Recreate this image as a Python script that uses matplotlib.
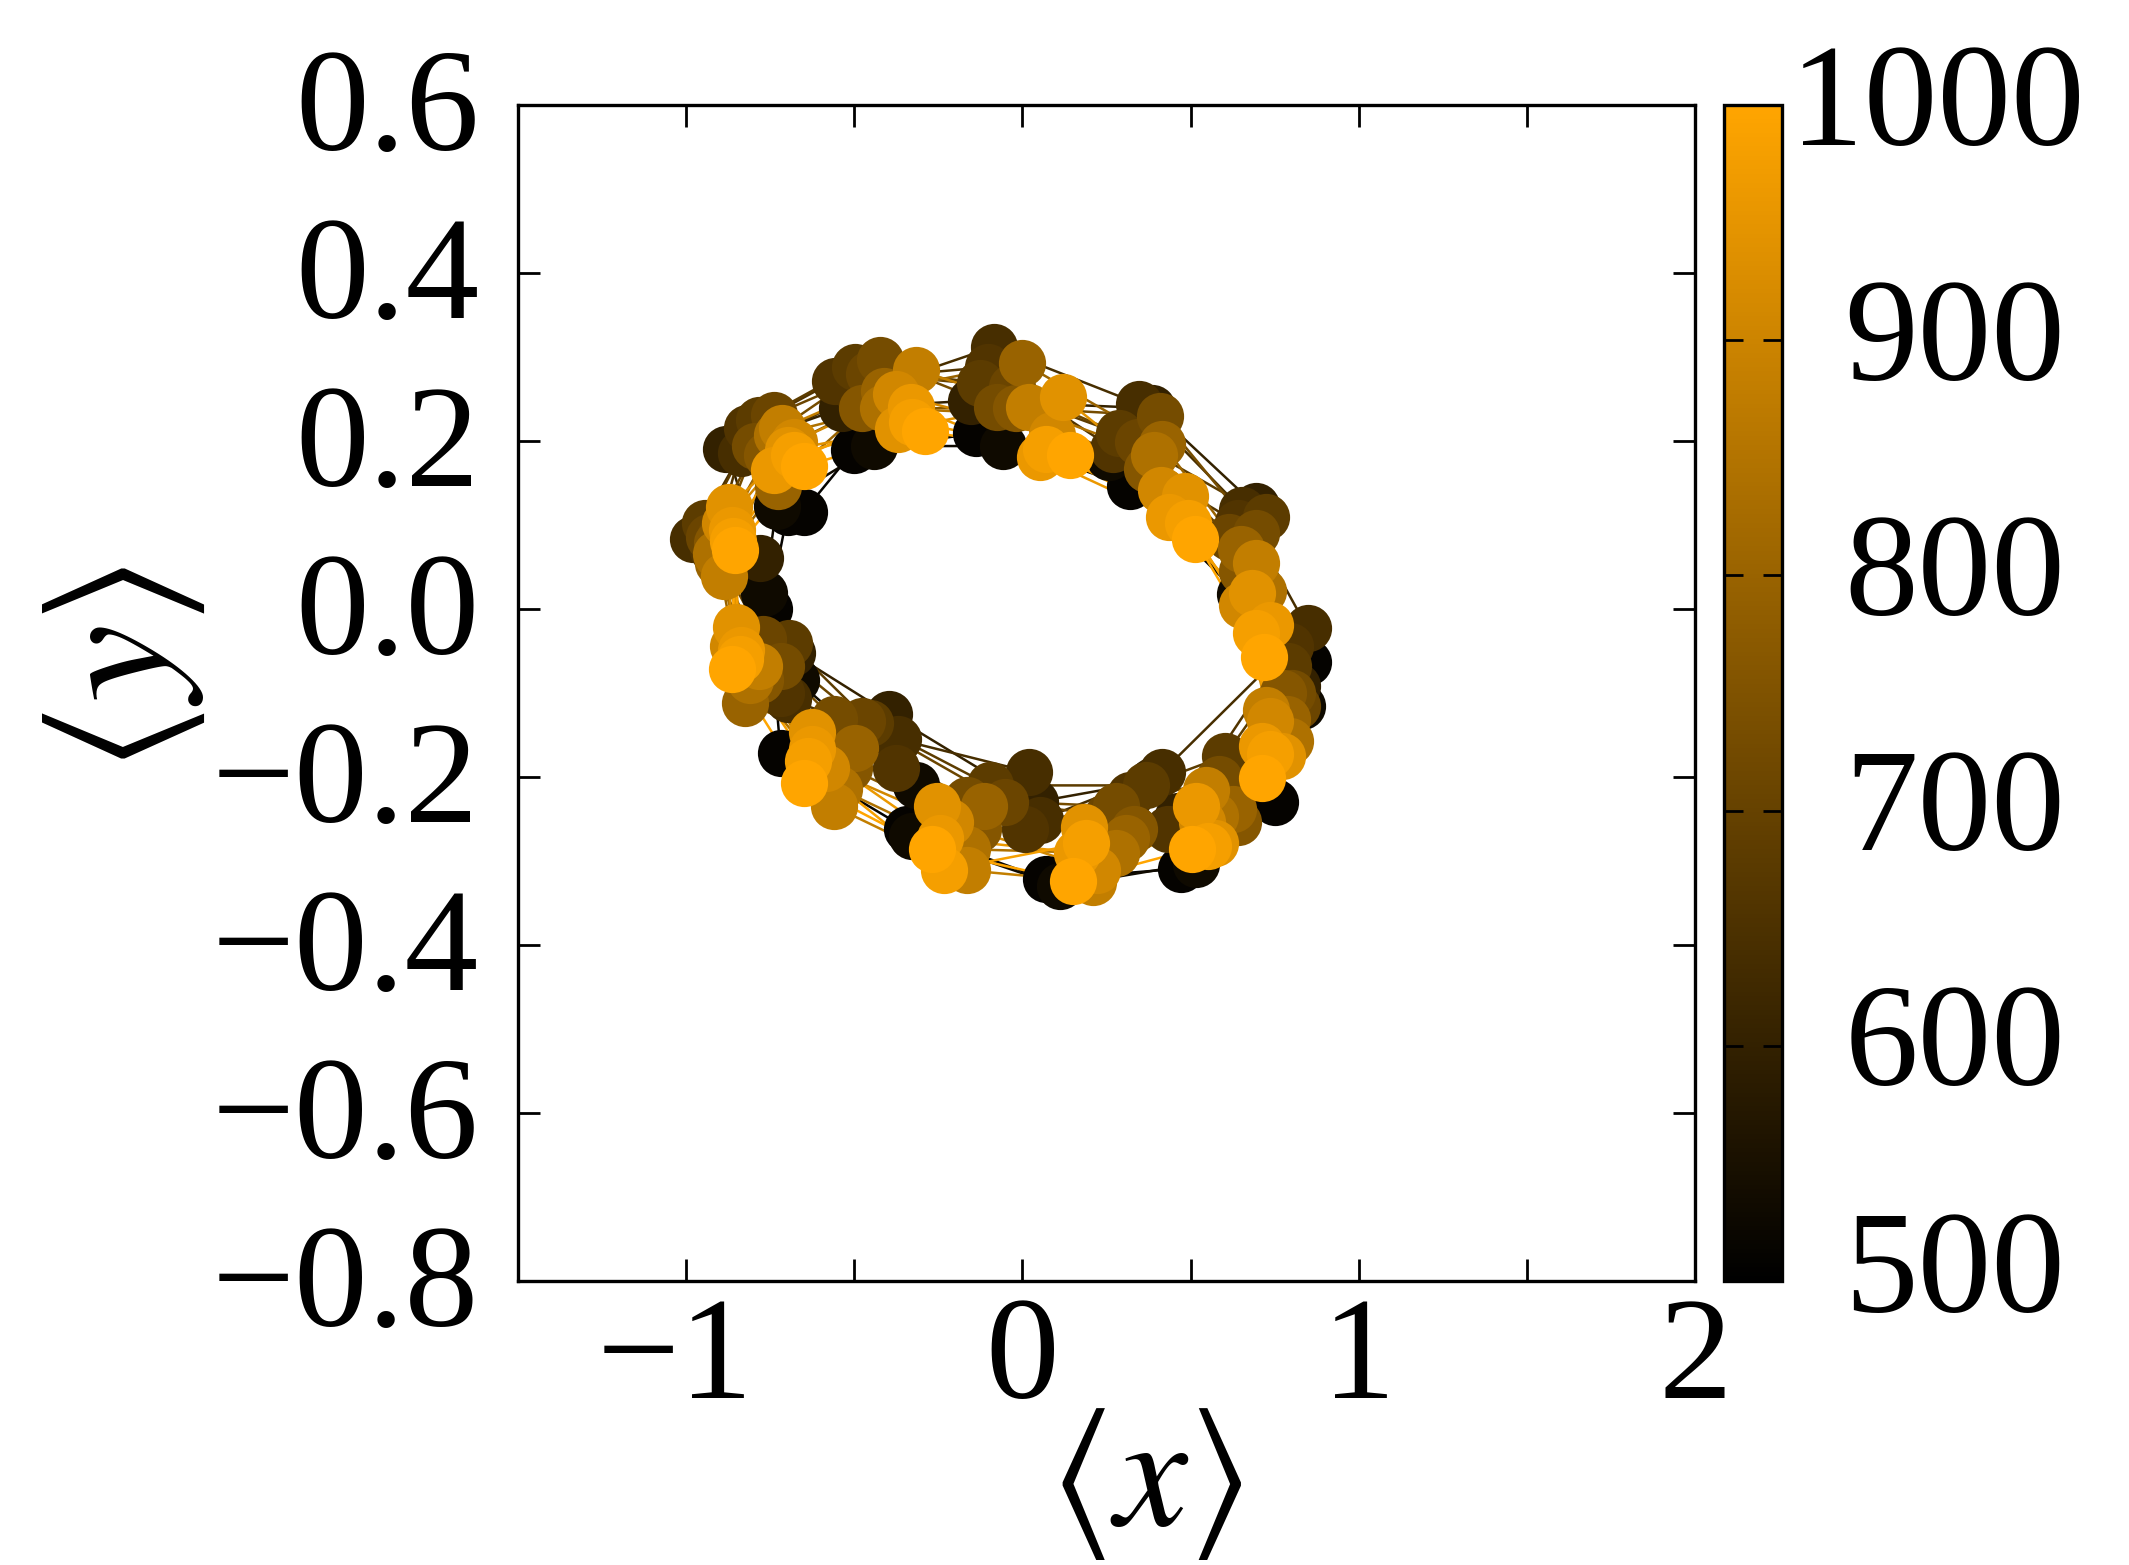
import matplotlib
matplotlib.use("Agg")
import numpy as np
import matplotlib.pyplot as plt
from matplotlib.colors import LinearSegmentedColormap, Normalize
from matplotlib.cm import ScalarMappable
from matplotlib.transforms import ScaledTranslation

plt.rcParams['font.family'] = ['Liberation Serif', 'DejaVu Serif']
plt.rcParams['mathtext.fontset'] = 'stix'

times = [510, 530, 640, 680, 730, 800, 880, 940, 960, 1000]
times_extra = [600, 660, 710, 760, 840, 910, 980]

osc_x = [
    [-0.698, -0.767, -0.981, -0.945, -0.900, -0.904, -0.888, -0.872, -0.864, -0.856],
    [-0.755, -0.674, -0.698, -0.694, -0.719, -0.824, -0.783, -0.852, -0.836, -0.864],
    [-0.719, -0.315, -0.371, -0.452, -0.561, -0.497, -0.561, -0.626, -0.626, -0.650],
    [-0.343, -0.327, 0.020, -0.097, -0.166, -0.113, -0.166, -0.254, -0.246, -0.270],
    [0.069, 0.113, 0.052, 0.367, 0.279, 0.307, 0.210, 0.182, 0.161, 0.149],
    [0.472, 0.517, 0.416, 0.602, 0.585, 0.626, 0.545, 0.573, 0.517, 0.505],
    [0.751, 0.832, 0.848, 0.791, 0.803, 0.787, 0.723, 0.771, 0.711, 0.711],
    [0.848, 0.646, 0.654, 0.723, 0.694, 0.650, 0.694, 0.682, 0.735, 0.719],
    [0.319, 0.258, 0.347, 0.287, 0.408, 0.416, 0.424, 0.484, 0.436, 0.513],
    [-0.137, -0.057, -0.085, -0.125, -0.077, 0.000, 0.020, 0.121, 0.052, 0.141],
    [-0.501, -0.440, -0.488, -0.497, -0.424, -0.412, -0.315, -0.371, -0.331, -0.291],
    [-0.650, -0.731, -0.836, -0.783, -0.795, -0.727, -0.715, -0.698, -0.739, -0.650],
]
osc_y = [
    [0.115, 0.019, 0.083, 0.102, 0.086, 0.055, 0.039, 0.121, 0.094, 0.070],
    [0.000, -0.084, -0.107, -0.040, -0.068, -0.112, -0.068, -0.021, -0.049, -0.071],
    [-0.172, -0.210, -0.155, -0.136, -0.131, -0.165, -0.235, -0.147, -0.167, -0.207],
    [-0.262, -0.270, -0.194, -0.210, -0.227, -0.235, -0.311, -0.235, -0.273, -0.286],
    [-0.322, -0.330, -0.251, -0.210, -0.235, -0.273, -0.325, -0.259, -0.290, -0.324],
    [-0.309, -0.303, -0.194, -0.175, -0.202, -0.238, -0.215, -0.278, -0.235, -0.286],
    [-0.230, -0.115, -0.023, -0.068, -0.100, -0.131, -0.120, -0.175, -0.163, -0.201],
    [-0.063, 0.018, 0.118, 0.110, 0.091, 0.071, 0.055, 0.019, -0.019, -0.057],
    [0.146, 0.181, 0.244, 0.209, 0.230, 0.197, 0.138, 0.134, 0.110, 0.083],
    [0.209, 0.194, 0.312, 0.269, 0.241, 0.293, 0.241, 0.252, 0.181, 0.183],
    [0.189, 0.194, 0.257, 0.288, 0.296, 0.260, 0.285, 0.214, 0.241, 0.212],
    [0.116, 0.123, 0.186, 0.225, 0.194, 0.146, 0.215, 0.189, 0.165, 0.170],
]
extra_x = [
    [-0.779, -0.920, -0.933, -0.908, -0.912, -0.884, -0.860],
    [-0.686, -0.719, -0.771, -0.779, -0.811, -0.860, -0.840],
    [-0.396, -0.375, -0.476, -0.517, -0.545, -0.585, -0.638],
    [0.036, 0.008, -0.052, -0.133, -0.166, -0.214, -0.234],
    [0.384, 0.319, 0.250, 0.331, 0.279, 0.222, 0.190],
    [0.464, 0.432, 0.614, 0.642, 0.573, 0.533, 0.553],
    [0.815, 0.795, 0.815, 0.775, 0.795, 0.735, 0.735],
    [0.694, 0.642, 0.614, 0.654, 0.715, 0.654, 0.694],
    [0.384, 0.270, 0.343, 0.371, 0.392, 0.412, 0.493],
    [-0.153, -0.101, -0.032, -0.020, 0.069, 0.089, 0.069],
    [-0.537, -0.557, -0.456, -0.476, -0.416, -0.375, -0.327],
    [-0.880, -0.820, -0.739, -0.759, -0.731, -0.678, -0.678],
]
extra_y = [
    [0.061, 0.070, 0.086, 0.078, 0.065, 0.102, 0.081],
    [-0.052, -0.100, -0.036, -0.084, -0.084, -0.044, -0.060],
    [-0.125, -0.189, -0.133, -0.189, -0.214, -0.189, -0.181],
    [-0.230, -0.262, -0.230, -0.262, -0.286, -0.254, -0.311],
    [-0.205, -0.222, -0.246, -0.262, -0.291, -0.311, -0.278],
    [-0.246, -0.262, -0.214, -0.254, -0.246, -0.254, -0.282],
    [-0.092, -0.044, -0.116, -0.100, -0.157, -0.133, -0.173],
    [0.123, 0.102, 0.086, 0.045, 0.021, 0.005, -0.028],
    [0.239, 0.191, 0.199, 0.167, 0.183, 0.142, 0.102],
    [0.248, 0.288, 0.264, 0.239, 0.231, 0.207, 0.191],
    [0.239, 0.272, 0.280, 0.239, 0.239, 0.256, 0.223],
    [0.191, 0.215, 0.231, 0.183, 0.207, 0.199, 0.183],
]

xticks = [-1.0, -0.5, 0.0, 0.5, 1.0, 1.5, 2.0]
xticklabels = ['\u22121', '', '0', '', '1', '', '2']
yticks = [-0.8, -0.6, -0.4, -0.2, 0.0, 0.2, 0.4, 0.6]
yticklabels = ['\u22120.8', '\u22120.6', '\u22120.4', '\u22120.2', '0.0', '0.2', '0.4', '0.6']
cbar_ticks = [500, 600, 700, 800, 900, 1000]

W, H = 2129, 1565
fig = plt.figure(figsize=(W / 100, H / 100), dpi=100)
ax = fig.add_axes([518 / W, 1 - 1281 / H, (1695 - 518) / W, (1281 - 105) / H])

cmap = LinearSegmentedColormap.from_list('bo', ['#000000', '#FFA500'])
norm = Normalize(500, 1000)

all_t = np.array(times + times_extra)
X = np.hstack([np.array(osc_x), np.array(extra_x)])
Y = np.hstack([np.array(osc_y), np.array(extra_y)])
order = np.argsort(all_t)
all_t, X, Y = all_t[order], X[:, order], Y[:, order]

for j, t in enumerate(all_t):
    c = cmap(norm(t))
    ax.plot(np.r_[X[:, j], X[0, j]], np.r_[Y[:, j], Y[0, j]], '-', color=c, lw=1.8, zorder=2 + j * 0.01)
for j, t in enumerate(all_t):
    c = cmap(norm(t))
    ax.plot(X[:, j], Y[:, j], 'o', color=c, ms=34, mew=0, zorder=3 + j * 0.01)

ax.set_xlim(-1.5, 2)
ax.set_ylim(-0.8, 0.6)
ax.set_xticks(xticks)
ax.set_xticklabels(xticklabels)
ax.set_yticks(yticks)
ax.set_yticklabels(yticklabels)
ax.tick_params(direction='in', top=True, right=True, length=16, width=2, labelsize=106)
ax.tick_params(axis='x', pad=11)
ax.tick_params(axis='y', pad=28)
for s in ax.spines.values():
    s.set_linewidth(2.4)
lab0 = ax.get_xticklabels()[0]
lab0.set_transform(lab0.get_transform() + ScaledTranslation(-8 / 72, 0, fig.dpi_scale_trans))
for lab in ax.get_yticklabels():
    lab.set_transform(lab.get_transform() + ScaledTranslation(0, 4 / 72, fig.dpi_scale_trans))

cax = fig.add_axes([1724 / W, 1 - 1281 / H, (1786 - 1728) / W, (1281 - 105) / H])
cb = fig.colorbar(ScalarMappable(norm=norm, cmap=cmap), cax=cax)
cb.set_ticks(cbar_ticks)
cb.outline.set_linewidth(2.4)
cax.tick_params(direction='in', left=True, right=True, length=14, width=2, labelsize=106, pad=14)
for lab, val in zip(cax.get_yticklabels(), cbar_ticks):
    dx = 31 if val != 1000 else -8
    dy = {500: 14, 1000: 8}.get(val, 8)
    lab.set_transform(lab.get_transform() + ScaledTranslation(dx / 72, dy / 72, fig.dpi_scale_trans))

fig.text(1146 / W, 1 - 1484 / H, r'$\langle x\rangle$', fontsize=118, ha='center', va='center')
fig.text(124 / W, 1 - 669 / H, r'$\langle y\rangle$', fontsize=126, ha='center', va='center', rotation=90)

fig.savefig('out.png', dpi=100)
